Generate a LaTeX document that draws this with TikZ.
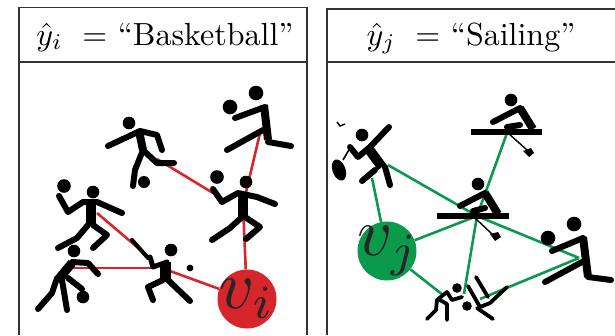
\documentclass[tikz,border=0pt]{standalone}
\definecolor{redv}{HTML}{D7262B}
\definecolor{greenv}{HTML}{0B9A4C}
\tikzset{
  frameline/.style={draw=black!80,line width=1.2pt},
  title/.style={scale=3.2,inner sep=0pt,anchor=base},
  limb/.style={draw=black,line width=6pt,line cap=round,line join=round},
  thin limb/.style={draw=black,line width=3.8pt,line cap=round,line join=round},
  torso/.style={draw=black,line width=9.5pt,line cap=butt,line join=round},
  oar/.style={draw=black,line width=1.4pt},
  boat/.style={draw=black,line width=6.5pt},
  redge/.style={draw=redv,line width=2.6pt},
  gedge/.style={draw=greenv,line width=2.6pt},
  vnode/.style={circle,minimum size=59pt,inner sep=0pt,text=black!85},
  vlabel/.style={scale=6.8,text=black!85,inner sep=0pt},
}
\begin{document}
\begin{tikzpicture}[x=1pt,y=-1pt]
\useasboundingbox (0,0) rectangle (615,335);
% frames
\draw[frameline] (19,335) -- (19,7.5) -- (307,7.5) -- (307,335);
\draw[frameline] (19,62) -- (307,62);
\draw[frameline] (327,335) -- (327,9) -- (615,9);
\draw[frameline] (327,62) -- (615,62);
\node[title] (tl) at (165,45) {$\hat{y}_i\ =\ $``Basketball''};
\node[title] (tr) at (471,45) {$\hat{y}_j\ =\ $``Sailing''};
% left nodes
\node[vnode,fill=redv] (vi) at (247,299) {};
\coordinate (jump) at (260,133);
\coordinate (kick) at (157,159);
\coordinate (thrA) at (213,193);
\coordinate (thrB) at (243,205);
\coordinate (thrC) at (97,213);
\coordinate (batA) at (150,258);
\coordinate (batB) at (152,268);
\coordinate (batC) at (170,271);
\coordinate (bend) at (73,268);
\draw[redge] (jump) -- (thrB) -- (vi);
\draw[redge] (kick) -- (thrA);
\draw[redge] (thrC) -- (batA);
\draw[redge] (bend) -- (batB);
\draw[redge] (batC) -- (vi);
% right nodes
\node[vnode,fill=greenv] (vj) at (387,251) {};
\coordinate (ten) at (388,165);
\coordinate (tenB) at (372,178);
\coordinate (rowT) at (507,133);
\coordinate (rowC) at (477,216);
\coordinate (jumpR) at (579,258);
\coordinate (wrA) at (443,295);
\coordinate (wrB) at (464,294);
\coordinate (wrC) at (480,299);
\draw[gedge] (ten) -- (rowC);
\draw[gedge] (rowC) -- (jumpR);
\draw[gedge] (rowT) -- (rowC);
\draw[gedge] (vj) -- (tenB);
\draw[gedge] (vj) -- (rowC);
\draw[gedge] (vj) -- (wrA);
\draw[gedge] (rowC) -- (wrB);
\draw[gedge] (wrC) -- (jumpR);
\node[vlabel] (vil) at (247,299) {$v_i$};
\node[vlabel] (vjl) at (388,251) {$v_j$};
% kicking figure
\fill (129,123) circle (6.3);
\fill (144,182) circle (6);
\draw[limb] (108,146) -- (140,131) -- (157,135) -- (162,150);
\draw[torso,line width=8pt] (139,131) -- (143,150);
\draw[limb] (143,150) -- (157,163) -- (174,163);
\draw[limb] (143,150) -- (135,170) -- (133,186);
% jumper
\fill (256,93) circle (7.3);
\fill (230,107) circle (7.3);
\draw[limb] (235,118) -- (265,107);
\draw[torso,line width=8pt] (264,105) -- (268,140);
\draw[limb] (263,130) -- (227,150);
\draw[limb] (268,142) -- (291,146);
% thrower right
\fill (246,182) circle (6.3);
\fill (217,177) circle (6.8);
\draw[limb] (213,189) -- (222,202) -- (238,193) -- (257,197) -- (275,204);
\draw[torso] (243,193) -- (243,217);
\draw[limb] (242,217) -- (230,228) -- (212,240);
\draw[limb] (245,217) -- (260,227) -- (246,239);
% thrower left
\fill (93,192) circle (6.3);
\fill (64,186) circle (6.8);
\draw[limb] (59,196) -- (68,212) -- (83,202) -- (97,202) -- (122,213);
\draw[torso] (91,202) -- (91,225);
\draw[limb] (88,225) -- (77,238) -- (58,248);
\draw[limb] (93,225) -- (107,235) -- (93,248);
% bending figure
\fill (74,251) circle (6.3);
\fill (83,297) circle (6.3);
\draw[limb] (72,262) -- (88,263) -- (98,274);
\draw[torso,line width=9pt] (72,263) -- (57,281);
\draw[limb] (68,278) -- (82,289);
\draw[limb] (56,281) -- (52,293) -- (38,309);
\draw[limb] (62,280) -- (67,310);
% batter
\fill (171,250) circle (6.3);
\fill (190,268) circle (3.4);
\draw[limb,line width=4pt] (132,240) -- (148,258);
\draw[limb,line width=5pt] (150,257) -- (153,267) -- (167,262);
\draw[torso,line width=11pt] (165,262) -- (165,282);
\draw[limb] (163,280) -- (148,287) -- (153,300);
\draw[limb] (168,280) -- (190,301);
% tennis
\fill (362,135) circle (6.3);
\fill[rotate around={20:(339,170)}] (339,170) ellipse (6.5 and 11);
\draw[limb] (389,127) -- (370,147) -- (358,157) -- (350,147);
\draw[oar,line width=1.6pt] (350,148) -- (343,160);
\draw[torso,line width=10pt] (368,148) -- (382,167);
\draw[limb] (385,167) -- (390,185);
\draw[limb] (375,170) -- (362,181);
\draw[oar] (337,122) -- (340,126) -- (345,124);
% rower top
\fill (511,100) circle (6.3);
\draw[boat] (471,132) -- (542,132);
\draw[limb] (493,122) -- (520,108);
\draw[torso,line width=8pt] (520,108) -- (533,129);
\draw[limb] (507,127) -- (520,125);
\draw[oar] (508,133) -- (527,150);
\fill (523,151) -- (531,148) -- (534,153) -- (529,157) -- cycle;
% rower centre
\fill (478,184) circle (6.3);
\draw[boat] (437,216) -- (509,216);
\draw[limb] (460,206) -- (485,193);
\draw[torso,line width=8pt] (485,193) -- (498,214);
\draw[limb] (473,211) -- (485,208);
\draw[oar] (475,218) -- (492,234);
\fill (490,234) -- (498,232) -- (501,237) -- (495,241) -- cycle;
% jumper right
\fill (574,224) circle (7.3);
\fill (548,238) circle (7.3);
\draw[limb] (552,251) -- (583,238);
\draw[torso,line width=8pt] (583,237) -- (588,277);
\draw[limb] (582,262) -- (545,282);
\draw[limb] (588,277) -- (611,280);
% wrestlers
\fill (457,288) circle (4.8);
\fill (467,306) circle (4.8);
\draw[thin limb] (462,297) -- (452,300) -- (447,292) -- (437,300) -- (436,310) -- (427,319);
\draw[thin limb] (440,300) -- (447,304) -- (447,320);
\draw[thin limb] (476,277) -- (488,297);
\draw[thin limb] (468,286) -- (480,307) -- (490,303) -- (507,287);
\draw[thin limb] (477,308) -- (493,319);
\end{tikzpicture}
\end{document}
